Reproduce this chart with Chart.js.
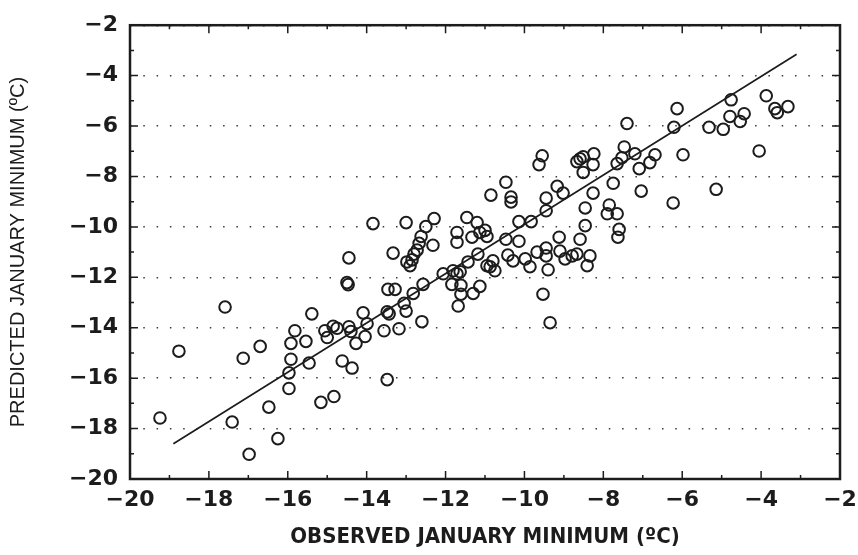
<!DOCTYPE html>
<html>
<head>
<meta charset="utf-8">
<script src="https://cdn.jsdelivr.net/npm/chart.js@4.4.0/dist/chart.umd.min.js"></script>
<style>
  html, body { margin: 0; padding: 0; background: #fff; }
</style>
</head>
<body>
<canvas id="grafico" width="858" height="555"></canvas>
<script>
const observado = [
  -19.24, -18.76, -17.59, -17.13, -16.70, -17.41, -16.98, -16.48, -16.25, -15.97,
  -15.97, -15.92, -15.92, -15.82, -15.46, -15.54, -15.39, -15.16, -15.06, -15.00,
  -14.83, -14.85, -14.75, -14.62, -14.37, -14.45, -14.50, -14.47, -14.45, -14.40,
  -14.27, -14.04, -13.99, -14.09, -13.56, -13.48, -13.48, -13.43, -13.18, -13.00,
  -13.05, -12.82, -12.60, -12.57, -13.46, -13.28, -13.33, -13.84, -13.00, -12.29,
  -12.50, -12.62, -12.67, -12.72, -12.80, -12.85, -12.98, -12.90, -12.32, -12.06,
  -11.81, -11.71, -11.63, -11.84, -11.61, -11.61, -11.68, -11.30, -11.13, -11.43,
  -11.18, -11.71, -11.71, -11.46, -11.20, -11.33, -11.13, -11.00, -10.95, -10.95,
  -10.80, -10.75, -10.87, -10.42, -10.29, -9.98, -9.86, -9.68, -9.45, -9.45,
  -9.40, -9.10, -8.97, -8.79, -8.67, -8.34, -8.41, -9.53, -9.35, -10.47,
  -10.14, -9.12, -8.59, -10.14, -9.83, -10.47, -10.85, -10.34, -10.34, -9.17,
  -9.02, -9.45, -9.45, -8.26, -8.46, -8.46, -9.55, -9.63, -8.67, -8.59,
  -8.51, -8.24, -8.26, -8.51, -7.75, -7.85, -7.90, -7.65, -7.60, -7.63,
  -7.40, -7.47, -7.53, -7.65, -7.20, -7.09, -6.82, -6.69, -5.98, -7.04,
  -6.23, -6.13, -6.21, -5.14, -5.32, -4.96, -4.53, -4.43, -4.79, -4.76,
  -4.05, -3.87, -3.65, -3.59, -3.32
];
const predicho = [
  -17.58, -14.93, -13.18, -15.21, -14.74, -17.74, -19.02, -17.15, -18.40, -16.41,
  -15.79, -15.25, -14.62, -14.12, -15.40, -14.54, -13.45, -16.96, -14.12, -14.39,
  -16.73, -13.94, -14.02, -15.32, -15.60, -11.23, -12.21, -12.29, -13.96, -14.15,
  -14.62, -14.35, -13.84, -13.41, -14.12, -16.06, -13.37, -13.45, -14.04, -13.34,
  -13.03, -12.64, -13.76, -12.28, -12.48, -12.48, -11.04, -9.87, -9.83, -9.67,
  -9.99, -10.38, -10.65, -10.92, -11.08, -11.31, -11.39, -11.54, -10.73, -11.86,
  -11.74, -11.86, -11.78, -12.28, -12.32, -12.67, -13.14, -12.64, -12.36, -11.39,
  -11.08, -10.22, -10.61, -9.63, -9.83, -10.41, -10.22, -10.14, -10.38, -11.54,
  -11.35, -11.74, -11.58, -11.12, -11.35, -11.27, -11.58, -11.00, -10.84, -11.15,
  -11.70, -10.96, -11.27, -11.15, -11.08, -11.15, -11.54, -12.67, -13.80, -10.49,
  -10.57, -10.41, -10.49, -9.79, -9.79, -8.23, -8.74, -8.82, -9.01, -8.39,
  -8.66, -8.86, -9.36, -8.66, -9.25, -9.95, -7.18, -7.53, -7.41, -7.30,
  -7.22, -7.10, -7.53, -7.84, -8.27, -9.13, -9.48, -9.48, -10.10, -10.41,
  -5.90, -6.83, -7.26, -7.49, -7.10, -7.69, -7.45, -7.14, -7.14, -8.58,
  -9.05, -5.31, -6.05, -8.51, -6.05, -6.13, -5.82, -5.51, -5.62, -4.96,
  -6.99, -4.80, -5.31, -5.47, -5.23
];
// Recta de regresión (extremos)
const lineaX = [-18.9, -3.1];
const lineaY = [-18.6, -3.15];

const ticksX = [-20, -18, -16, -14, -12, -10, -8, -6, -4, -2];
const ticksY = [-20, -18, -16, -14, -12, -10, -8, -6, -4, -2];
const tituloX = 'OBSERVED JANUARY MINIMUM (ºC)';
const tituloY = 'PREDICTED JANUARY MINIMUM (ºC)';

const tinta = '#1c1c1c';

// Formato con signo menos tipográfico
function formatoTick(v) {
    return v < 0 ? '\u2212' + Math.abs(v) : String(v);
}

// Marco del gráfico con marcas hacia dentro en los cuatro lados
const marcoPlugin = {
    id: 'marco',
    afterDatasetsDraw(chart) {
        const { ctx, chartArea: a, scales: { x, y } } = chart;
        ctx.save();
        ctx.strokeStyle = tinta;
        ctx.lineWidth = 1.5;
        ctx.beginPath();
        for (let v = x.min; v <= x.max; v++) {
            const len = v % 2 === 0 ? 8 : 4;
            const px = x.getPixelForValue(v);
            ctx.moveTo(px, a.bottom); ctx.lineTo(px, a.bottom - len);
            ctx.moveTo(px, a.top); ctx.lineTo(px, a.top + len);
        }
        for (let v = y.min; v <= y.max; v++) {
            const len = v % 2 === 0 ? 8 : 4;
            const py = y.getPixelForValue(v);
            ctx.moveTo(a.left, py); ctx.lineTo(a.left + len, py);
            ctx.moveTo(a.right, py); ctx.lineTo(a.right - len, py);
        }
        ctx.stroke();
        ctx.lineWidth = 2.5;
        ctx.strokeRect(a.left, a.top, a.right - a.left, a.bottom - a.top);
        ctx.restore();
    }
};

const fuenteTicks = { family: "'DejaVu Sans', sans-serif", size: 22, weight: 'bold' };

new Chart(document.getElementById('grafico'), {
    type: 'scatter',
    data: {
        datasets: [
            {
                label: 'Estaciones',
                data: observado.map((v, i) => ({ x: v, y: predicho[i] })),
                pointStyle: 'circle',
                pointRadius: 5.8,
                pointHoverRadius: 5.8,
                pointBorderWidth: 2,
                borderColor: tinta,
                backgroundColor: 'rgba(0,0,0,0)'
            },
            {
                type: 'line',
                label: 'Regresión',
                data: lineaX.map((v, i) => ({ x: v, y: lineaY[i] })),
                borderColor: tinta,
                borderWidth: 1.7,
                pointRadius: 0,
                fill: false,
                showLine: true
            }
        ]
    },
    options: {
        responsive: false,
        animation: false,
        layout: { padding: { top: 17, right: 18, left: 0, bottom: 0 } },
        plugins: {
            legend: { display: false },
            tooltip: { enabled: false }
        },
        scales: {
            x: {
                type: 'linear',
                min: -20,
                max: -2,
                afterBuildTicks: s => { s.ticks = ticksX.map(v => ({ value: v })); },
                afterFit: s => { s.height = 76; },
                ticks: {
                    callback: formatoTick,
                    font: fuenteTicks,
                    color: tinta,
                    padding: 0,
                    maxRotation: 0,
                    autoSkip: false
                },
                grid: { display: false },
                border: { display: false },
                title: {
                    display: true,
                    text: tituloX,
                    color: tinta,
                    font: { family: "'DejaVu Sans Condensed', 'Liberation Sans Narrow', sans-serif", size: 22, weight: 'bold' },
                    padding: { top: 0, bottom: 5 }
                }
            },
            y: {
                type: 'linear',
                min: -20,
                max: -2,
                afterBuildTicks: s => { s.ticks = ticksY.map(v => ({ value: v })); },
                afterFit: s => { s.width = 130; },
                ticks: {
                    callback: formatoTick,
                    font: fuenteTicks,
                    color: tinta,
                    padding: 12,
                    autoSkip: false
                },
                grid: { color: '#3a3a3a', lineWidth: 1.4, drawTicks: false },
                border: { display: false, dash: [1.5, 11.8] },
                title: {
                    display: true,
                    text: tituloY,
                    color: tinta,
                    font: { family: "'Liberation Sans', Arial, sans-serif", size: 20 },
                    padding: { top: 6, bottom: 0 }
                }
            }
        }
    },
    plugins: [marcoPlugin]
});
</script>
</body>
</html>
